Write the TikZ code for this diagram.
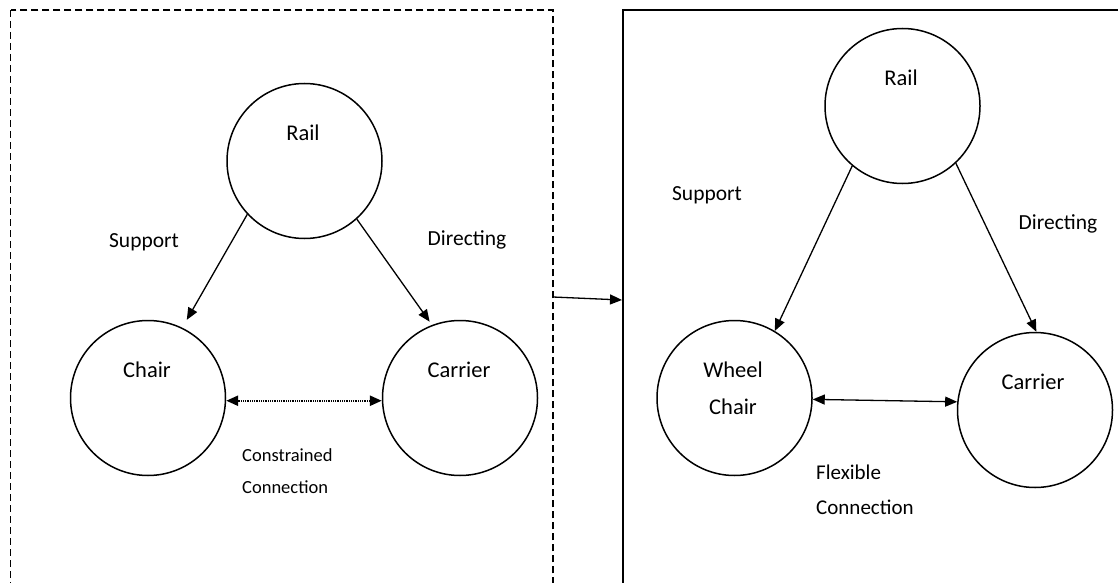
\documentclass[tikz,border=0pt]{standalone}
\usepackage{fontspec}
\setmainfont{Carlito}
\usetikzlibrary{arrows.meta}
\begin{document}
\begin{tikzpicture}[x=1pt,y=-1pt,
  state/.style={circle, draw, line width=1.5pt, minimum size=155pt, inner sep=0pt},
  lbl/.style={font=\fontsize{22.5}{26}\selectfont, anchor=base, inner sep=0pt},
  note/.style={anchor=base west, inner sep=0pt},
  flow/.style={line width=1.3pt, -{Triangle[length=12pt,width=10pt]}},
  link/.style={line width=1.3pt, {Triangle[length=12pt,width=10pt]}-{Triangle[length=12pt,width=10pt]}},
  boxedge/.style={line width=1.3pt}]
\useasboundingbox (0,0) rectangle (1118,583);
\fill[white] (0,0) rectangle (1118,583);

% frames of the two concepts (open past the page edge)
\begin{scope}
  \clip (0,0) rectangle (1118,583);
  \draw[boxedge, dash pattern=on 7pt off 4pt] (10.7,10) rectangle (553,620);
  \draw[boxedge, line width=1.6pt] (623,10) rectangle (1140,620);
\end{scope}

% arrow from the first concept to the second
\coordinate (frameL) at (553,297);
\coordinate (frameR) at (622,300);
\draw[flow] (frameL) -- (frameR);

% ---- constrained concept ----
\node[state] (railL) at (304.5,161) {};
\node[state] (chairL) at (148,398) {};
\node[state] (carrierL) at (460,398) {};

\node[lbl] (tRailL) at (303,140) {Rail};
\node[lbl] (tChairL) at (147,377) {Chair};
\node[lbl] (tCarrierL) at (459,377) {Carrier};
\node[lbl, font=\fontsize{21.5}{26}\selectfont] (tSupportL) at (144,247) {Support};
\node[lbl, font=\fontsize{21.5}{26}\selectfont] (tDirectL) at (467,245) {Directing};
\node[note, font=\fontsize{18.5}{22}\selectfont] (tConsA) at (242,461) {Constrained};
\node[note, font=\fontsize{18.5}{22}\selectfont] (tConsB) at (242,493) {Connection};

\draw[flow, shorten >=9pt] (railL.223) -- (chairL.64);
\draw[flow, shorten >=4pt] (railL.-48.7) -- (carrierL.111.5);
\draw[link, line width=2.4pt, dash pattern=on 1pt off 0.8pt] (chairL.-2) -- (carrierL.182);

% ---- flexible concept ----
\node[state] (railR) at (902.5,106) {};
\node[state] (wchairR) at (734.5,398) {};
\node[state] (carrierR) at (1035,410) {};

\node[lbl] (tRailR) at (901,86) {Rail};
\node[lbl] (tWheelR) at (733,377) {Wheel};
\node[lbl] (tChairR) at (733,414) {Chair};
\node[lbl] (tCarrierR) at (1033,389) {Carrier};
\node[lbl, font=\fontsize{21.5}{26}\selectfont] (tSupportR) at (707,200) {Support};
\node[lbl, font=\fontsize{21.5}{26}\selectfont] (tDirectR) at (1058,229) {Directing};
\node[note, font=\fontsize{21}{25}\selectfont] (tFlexA) at (816,479) {Flexible};
\node[note, font=\fontsize{21}{25}\selectfont] (tFlexB) at (816,514) {Connection};

\draw[flow] (railR.230.7) -- (wchairR.59.7);
\draw[flow] (railR.-47.5) -- (carrierR.89);
\draw[link] (wchairR.-1.5) -- (carrierR.174);
\end{tikzpicture}
\end{document}
